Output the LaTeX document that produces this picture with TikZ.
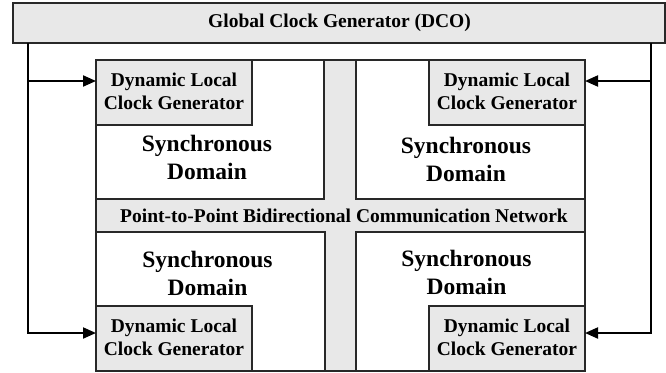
\documentclass[tikz,border=0pt]{standalone}
\usepackage{fontspec}
\setmainfont{Liberation Serif}
\usetikzlibrary{arrows.meta}
\definecolor{boxgray}{RGB}{232,232,232}
\definecolor{edgecol}{RGB}{40,40,40}
\begin{document}
\begin{tikzpicture}[x=1pt,y=-1pt,
  box/.style={draw=edgecol, line width=1.3pt, anchor=north west, inner sep=0pt, outer sep=0pt},
  graybox/.style={box, fill=boxgray},
  whitebox/.style={box, fill=white},
  smalltxt/.style={align=center, inner sep=0pt, font=\fontsize{19.5}{23}\selectfont\bfseries},
  bigtxt/.style={align=center, inner sep=0pt, font=\fontsize{23.5}{28}\selectfont\bfseries},
  conn/.style={line width=2pt, black, -{Triangle[length=13pt,width=11pt]}},
  plainconn/.style={line width=2pt, black}]
\useasboundingbox (0,0) rectangle (666,372);
% global clock generator
\node[graybox, minimum width=652pt, minimum height=40pt] (glob) at (13,3) {};
\node[smalltxt] (globtxt) at (339.5,23) {Global Clock Generator (DCO)};
% network background
\node[graybox, minimum width=489pt, minimum height=311pt] (net) at (96,60) {};
% domains
\node[whitebox, minimum width=228pt, minimum height=139pt] (dtl) at (96,60) {};
\node[whitebox, minimum width=229pt, minimum height=139pt] (dtr) at (356,60) {};
\node[whitebox, minimum width=229pt, minimum height=139pt] (dbl) at (96,232) {};
\node[whitebox, minimum width=229pt, minimum height=139pt] (dbr) at (356,232) {};
% network label
\node[smalltxt] (nettxt) at (344,216.3) {Point-to-Point Bidirectional Communication Network};
% dynamic local clock generators
\node[graybox, minimum width=156pt, minimum height=65pt] (dltl) at (96,60) {};
\node[graybox, minimum width=156pt, minimum height=65pt] (dltr) at (429,60) {};
\node[graybox, minimum width=156pt, minimum height=65pt] (dlbl) at (96,306) {};
\node[graybox, minimum width=156pt, minimum height=65pt] (dlbr) at (429,306) {};
\node[smalltxt] at ([yshift=1.5pt]dltl.center) {Dynamic Local\\Clock Generator};
\node[smalltxt] at ([yshift=1.5pt]dltr.center) {Dynamic Local\\Clock Generator};
\node[smalltxt] at ([yshift=1.5pt]dlbl.center) {Dynamic Local\\Clock Generator};
\node[smalltxt] at ([yshift=1.5pt]dlbr.center) {Dynamic Local\\Clock Generator};
% domain labels
\node[bigtxt] (stl) at (207,157) {Synchronous\\Domain};
\node[bigtxt] (str) at (466,159) {Synchronous\\Domain};
\node[bigtxt] (sbl) at (207.5,273) {Synchronous\\Domain};
\node[bigtxt] (sbr) at (466.5,272) {Synchronous\\Domain};
% connectors
\coordinate (lx) at (28,0);
\coordinate (rx) at (651,0);
\draw[conn] (glob.south -| lx) |- ([yshift=5.5pt]dlbl.west);
\draw[conn] ([yshift=11.5pt]dltl.west -| lx) -- ([yshift=11.5pt]dltl.west);
\draw[conn] (glob.south -| rx) |- ([yshift=5.5pt]dlbr.east);
\draw[conn] ([yshift=11.5pt]dltr.east -| rx) -- ([yshift=11.5pt]dltr.east);
\end{tikzpicture}
\end{document}
